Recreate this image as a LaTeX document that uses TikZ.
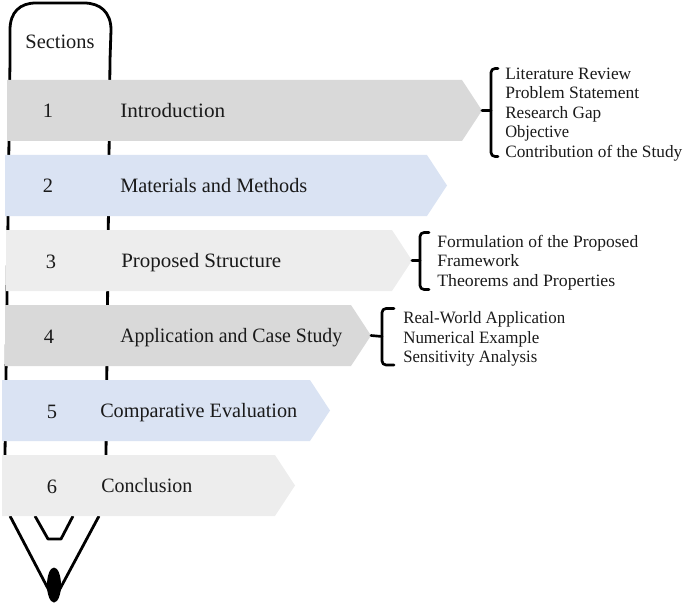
\documentclass[tikz,border=0pt]{standalone}
\usepackage{fontspec}
\setmainfont{Liberation Serif}
\definecolor{bargray}{HTML}{D9D9D9}
\definecolor{barblue}{HTML}{DAE3F3}
\definecolor{barlight}{HTML}{EDEDED}
\definecolor{inkdark}{HTML}{1A1A1A}
\newdimen\fitwdim
\newcommand{\fitw}[2]{\fitwdim=#1pt \fitwdim=0.75\fitwdim \resizebox{\fitwdim}{\height}{#2}}
\tikzset{
  x=0.75pt,y=-0.75pt,
  pencil/.style={draw=black,line width=2.1pt,line join=round},
  bracketline/.style={draw=black,line width=2pt,line cap=round},
  rowtext/.style={anchor=base west,inner sep=0pt,font=\fontsize{15.3}{18}\selectfont,text=inkdark},
  rownum/.style={anchor=base,inner sep=0pt,font=\fontsize{15.3}{18}\selectfont,text=inkdark},
  listtext/.style={anchor=base west,inner sep=0pt,font=\fontsize{13}{16}\selectfont,text=inkdark},
}
\begin{document}
\begin{tikzpicture}
\useasboundingbox (0,0) rectangle (685,606);
% pencil
\draw[pencil] (5,455) -- (10,60) -- (10,30) .. controls (10,12) and (20,3) .. (36,3) -- (84,3) .. controls (100,3) and (111,12) .. (111,30) -- (110,60) -- (106,455);
\draw[pencil] (10,516) -- (54,600) -- (99,516);
\draw[pencil] (35,516) -- (48,539) -- (61,539) -- (73,516);
\fill[black] (54,585) ellipse [x radius=7,y radius=17.5];
\node[anchor=base,inner sep=0pt,font=\fontsize{15.3}{18}\selectfont,text=inkdark] (sections) at (60,49) {Sections};
% bars
\fill[bargray] (7,80) -- (462,80) -- (482,110.5) coordinate (tip1) -- (462,141) -- (7,141) -- cycle;
\fill[barblue] (5,155) -- (427,155) -- (447,185.5) coordinate (tip2) -- (427,216) -- (5,216) -- cycle;
\fill[barlight] (6,230) -- (392,230) -- (412,260.5) coordinate (tip3) -- (392,291) -- (6,291) -- cycle;
\fill[bargray] (5,305) -- (351,305) -- (371,335.5) coordinate (tip4) -- (351,366) -- (5,366) -- cycle;
\fill[barblue] (2,380) -- (310,380) -- (330,410.5) coordinate (tip5) -- (310,441) -- (2,441) -- cycle;
\fill[barlight] (2,455) -- (275,455) -- (295,485.5) coordinate (tip6) -- (275,516) -- (2,516) -- cycle;
% row labels
\node[rownum] (n1) at (48,118) {1};
\node[rowtext] (r1) at (120,117.5) {\fitw{105}{Introduction}};
\node[rownum] (n2) at (48,193) {2};
\node[rowtext] (r2) at (120,192.5) {\fitw{187}{Materials and Methods}};
\node[rownum] (n3) at (51,268) {3};
\node[rowtext] (r3) at (121,267.5) {\fitw{160}{Proposed Structure}};
\node[rownum] (n4) at (49,343) {4};
\node[rowtext] (r4) at (120,342.5) {\fitw{222}{Application and Case Study}};
\node[rownum] (n5) at (52,418) {5};
\node[rowtext] (r5) at (100,417.5) {\fitw{197}{Comparative Evaluation}};
\node[rownum] (n6) at (52,493) {6};
\node[rowtext] (r6) at (101,492.5) {\fitw{91}{Conclusion}};
% lists
\node[listtext] (a1) at (505,79.5) {\fitw{126}{Literature Review}};
\node[listtext] (a2) at (505,98.5) {\fitw{134}{Problem Statement}};
\node[listtext] (a3) at (505,118.5) {\fitw{96}{Research Gap}};
\node[listtext] (a4) at (505,137.5) {\fitw{64}{Objective}};
\node[listtext] (a5) at (505,157.5) {\fitw{177}{Contribution of the Study}};
\node[listtext] (b1) at (437,247.5) {\fitw{201}{Formulation of the Proposed}};
\node[listtext] (b2) at (437,266.5) {\fitw{82}{Framework}};
\node[listtext] (b3) at (437,286.5) {\fitw{178}{Theorems and Properties}};
\node[listtext] (c1) at (403,323.5) {\fitw{162}{Real-World Application}};
\node[listtext] (c2) at (403,343.5) {\fitw{136}{Numerical Example}};
\node[listtext] (c3) at (403,362.5) {\fitw{134}{Sensitivity Analysis}};
% brackets
\coordinate (b1j) at (491,110.5);
\draw[bracketline] (tip1) -- (b1j);
\draw[bracketline,rounded corners=3pt] (498,68.5) -- (491,68.5) -- (b1j) -- (491,156.5) -- (498,156.5);
\coordinate (b3j) at (420,260.5);
\draw[bracketline] (tip3) -- (b3j);
\draw[bracketline,rounded corners=3pt] (429,232.5) -- (420,232.5) -- (b3j) -- (420,289.5) -- (429,289.5);
\coordinate (b4j) at (382,336.5);
\draw[bracketline] (tip4) -- (b4j);
\draw[bracketline,rounded corners=3pt] (394,308.5) -- (382,308.5) -- (b4j) -- (382,365) -- (394,365);
\end{tikzpicture}
\end{document}
